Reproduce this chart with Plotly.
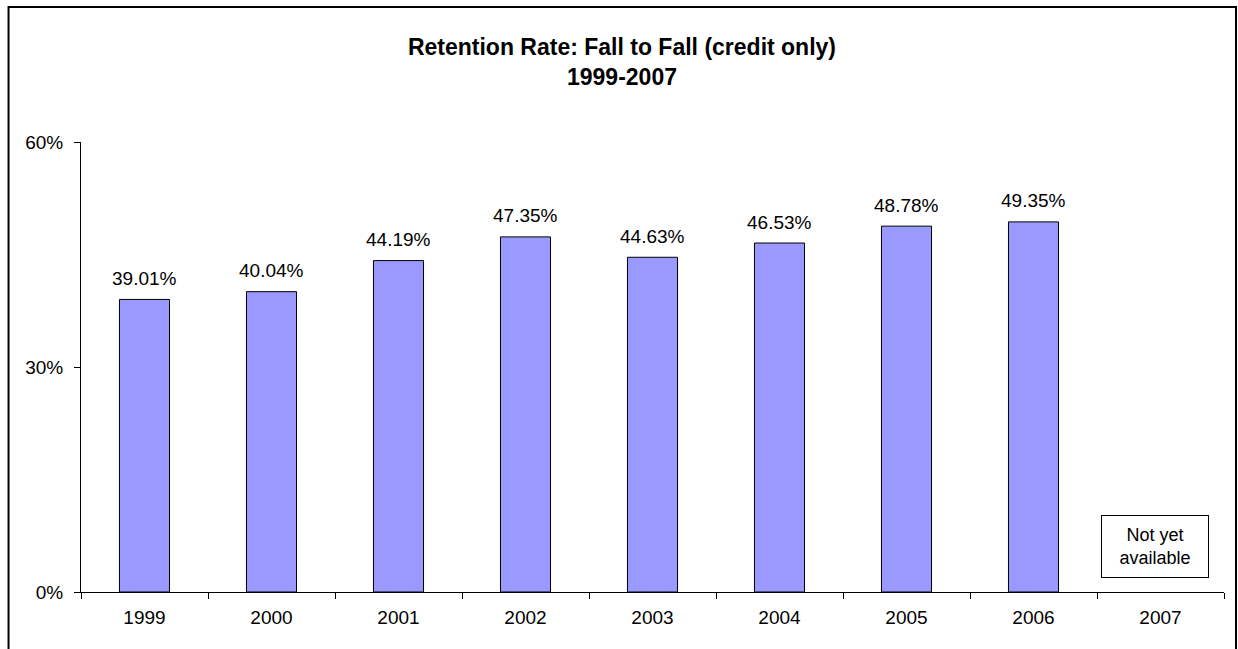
import plotly.graph_objects as go

# Data
years = ['1999', '2000', '2001', '2002', '2003', '2004', '2005', '2006', '2007']
retention = [0.3901, 0.4004, 0.4419, 0.4735, 0.4463, 0.4653, 0.4878, 0.4935, None]
pending_label = 'Not yet<br>available'

font_family = 'Arial, Liberation Sans, sans-serif'

fig = go.Figure()
fig.add_trace(go.Bar(
    x=years, y=retention,
    marker=dict(color='#9999FF', line=dict(color='black', width=1)),
    hoverinfo='x+y',
))

# value labels above bars (category index used for x so the axis stays categorical)
labels = [
    dict(x=i, y=v, text=f'{v * 100:.2f}%', showarrow=False,
         yanchor='middle', yshift=21,
         font=dict(family=font_family, size=19, color='black'))
    for i, v in enumerate(retention) if v is not None
]

# box for the missing year
labels.append(dict(
    x=len(years) - 1, y=0.0607, text=pending_label, showarrow=False,
    xshift=-6, width=104, height=59, borderpad=1,
    bordercolor='black', borderwidth=1, bgcolor='white',
    font=dict(family=font_family, size=18, color='black'),
))

fig.update_layout(
    title=dict(
        text='<b>Retention Rate: Fall to Fall (credit only)<br>1999-2007</b>',
        x=0.5024, xref='container', xanchor='center',
        y=0.915, yref='container', yanchor='top',
        font=dict(family=font_family, size=23, color='black'),
    ),
    annotations=labels,
    width=1238, height=649,
    margin=dict(l=81, r=14, t=142, b=57),
    paper_bgcolor='white', plot_bgcolor='white',
    bargap=0.606,
    showlegend=False,
    font=dict(family=font_family, size=19, color='black'),
    xaxis=dict(
        type='category', range=[-0.5, len(years) - 0.5], automargin=False,
        showline=True, linecolor='black', linewidth=1, tickangle=0,
        ticks='outside', tickson='boundaries', ticklen=6, tickcolor='black',
        ticklabelstandoff=8, showgrid=False, zeroline=False,
    ),
    yaxis=dict(
        range=[0, 0.6], dtick=0.3, tickformat='.0%', automargin=False,
        showline=True, linecolor='black', linewidth=1,
        ticks='outside', ticklen=6, tickcolor='black',
        ticklabelstandoff=7, showgrid=False, zeroline=False,
    ),
    # outer chart frame (bottom edge is cut off in the original)
    shapes=[dict(
        type='rect', xref='paper', yref='paper',
        x0=-0.0634, x1=1.0105, y0=-0.3, y1=1.3,
        line=dict(color='black', width=2), layer='below',
    )],
)

# drop the default page margin so the figure sits at the window's corner
fig.write_html('out.html', config={'displayModeBar': False},
               post_script="document.body.style.margin='0';")
